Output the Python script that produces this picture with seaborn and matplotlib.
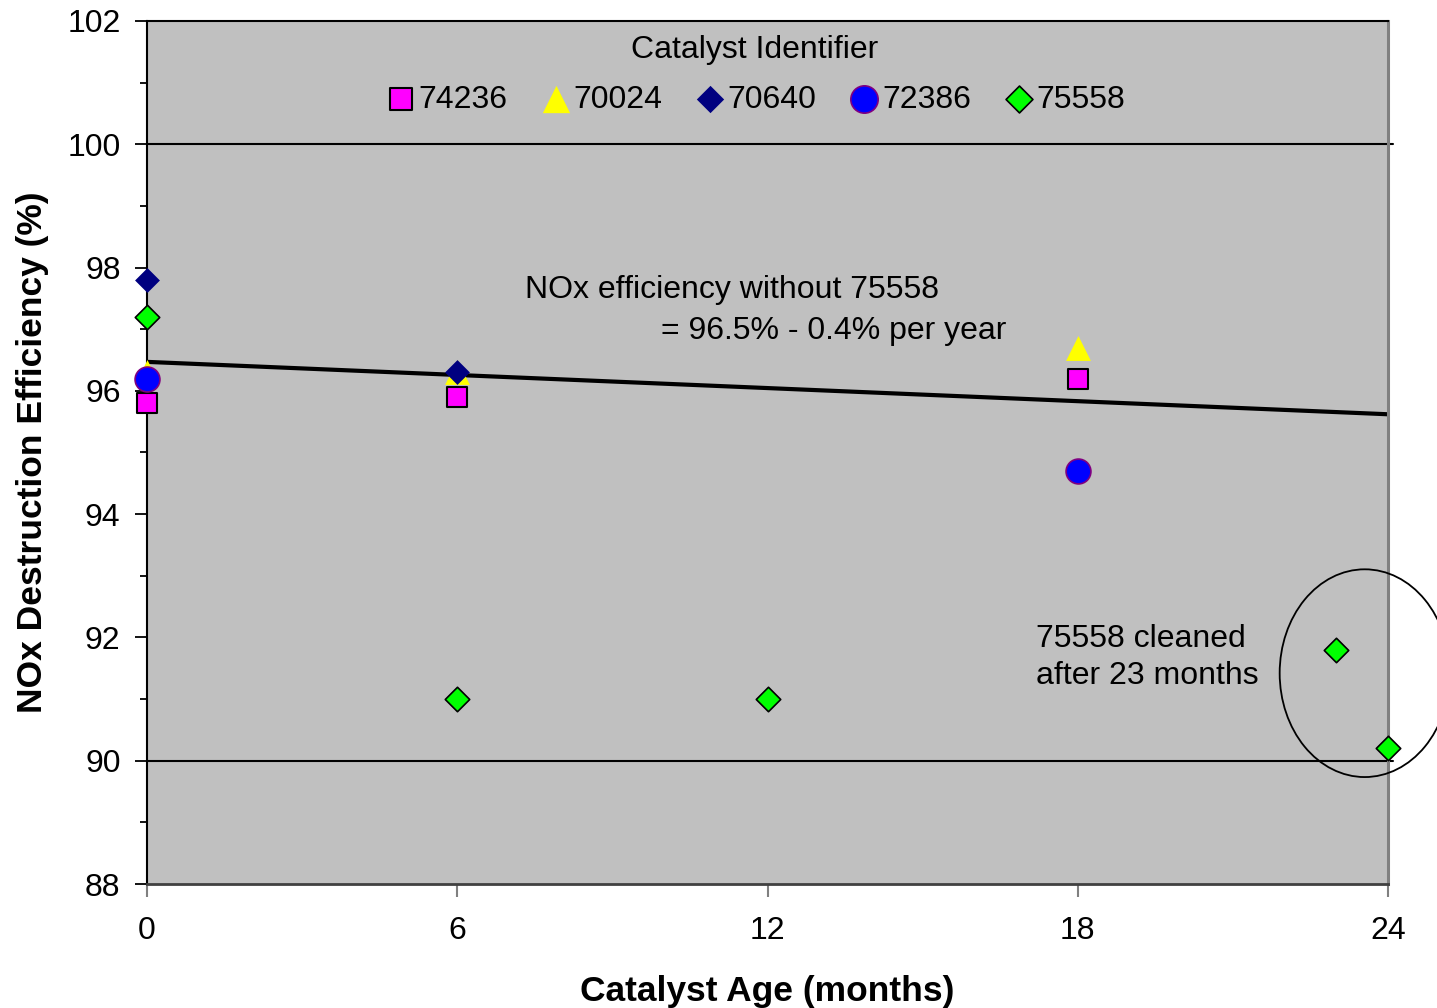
import numpy as np
import pandas as pd
import matplotlib
matplotlib.use("Agg")
import matplotlib.pyplot as plt
from matplotlib.patches import Ellipse
from matplotlib.ticker import MultipleLocator
import seaborn as sns

# ---- data ----
catalysts = ["74236", "70024", "70640", "72386", "75558"]
age_74236 = [0, 6, 18]
eff_74236 = [95.8, 95.9, 96.2]
age_70024 = [0, 6, 18]
eff_70024 = [96.3, 96.3, 96.7]
age_70640 = [0, 6]
eff_70640 = [97.8, 96.3]
age_72386 = [0, 18]
eff_72386 = [96.2, 94.7]
age_75558 = [0, 6, 12, 23, 24]
eff_75558 = [97.2, 91.0, 91.0, 91.8, 90.2]

trend_age = [0, 24]
trend_eff = [96.47, 95.62]

grid_levels = [90, 100]
x_ticks = [0, 6, 12, 18, 24]

sns.set_style("white")
plt.rcParams['font.family'] = ['Liberation Sans', 'DejaVu Sans']
plt.rcParams.update({'text.color': 'black', 'axes.labelcolor': 'black',
                     'xtick.color': 'black', 'ytick.color': 'black'})

frames = []
for name, a, e in [("74236", age_74236, eff_74236), ("70024", age_70024, eff_70024),
                   ("70640", age_70640, eff_70640), ("72386", age_72386, eff_72386),
                   ("75558", age_75558, eff_75558)]:
    frames.append(pd.DataFrame({"age": a, "eff": e, "catalyst": name}))
df = pd.concat(frames, ignore_index=True)

# marker styling per series (Excel look)
styles = {
    "74236": dict(marker="s", color="#FF00FF", edgecolor="black", s=225, linewidth=1.5),
    "70024": dict(marker="^", color="#FFFF00", edgecolor="#FFFF00", s=320, linewidth=0),
    "70640": dict(marker="D", color="#000080", edgecolor="#000080", s=160, linewidth=0),
    "72386": dict(marker="o", color="#0000FF", edgecolor="#800080", s=320, linewidth=1.2),
    "75558": dict(marker="D", color="#00FF00", edgecolor="black", s=155, linewidth=1.2),
}

fig = plt.figure(figsize=(14.37, 10.08), dpi=100)
ax = fig.add_axes([0.1023, 0.123, 0.8636, 0.8562])
ax.set_facecolor("#C0C0C0")

for lvl in grid_levels:
    ax.axhline(lvl, xmin=0, xmax=1.004, color="black", linewidth=1.5, zorder=1, clip_on=False)

sns.lineplot(x=trend_age, y=trend_eff, ax=ax, color="black", linewidth=3, zorder=2)

for name in catalysts:
    sub = df[df["catalyst"] == name]
    st = styles[name]
    sns.scatterplot(data=sub, x="age", y="eff", ax=ax, label=name,
                    marker=st["marker"], color=st["color"], edgecolor=st["edgecolor"],
                    s=st["s"], linewidth=st["linewidth"], zorder=3, clip_on=False)

ax.set_xlim(0, 24)
ax.set_ylim(88, 102)
ax.set_xticks(x_ticks)
ax.yaxis.set_major_locator(MultipleLocator(2))
ax.yaxis.set_minor_locator(MultipleLocator(1))
ax.tick_params(axis="y", which="major", direction="out", length=9, width=1.3,
               color="black", labelcolor="black", labelsize=23, pad=10, left=True)
ax.tick_params(axis="y", which="minor", direction="out", length=5, width=1.3,
               color="black", left=True)
ax.tick_params(axis="x", which="major", direction="out", length=9, width=1.5,
               color="#808080", labelcolor="black", labelsize=23, pad=14, bottom=True)

for side in ["left", "top"]:
    ax.spines[side].set_color("black")
    ax.spines[side].set_linewidth(1.5)
ax.spines["right"].set_color("#808080")
ax.spines["right"].set_linewidth(2.2)
ax.spines["bottom"].set_color("#404040")
ax.spines["bottom"].set_linewidth(2)

ax.set_xlabel("Catalyst Age (months)", fontsize=25.5, fontweight="bold", labelpad=21,
              color="black")
ax.set_ylabel("NOx Destruction Efficiency (%)", fontsize=25.5, fontweight="bold", labelpad=13,
              color="black")

ax.text(7.31, 97.64, "NOx efficiency without 75558", fontsize=23, ha="left", va="center")
ax.text(9.94, 96.97, "= 96.5% - 0.4% per year", fontsize=23, ha="left", va="center")
ax.text(17.19, 91.68, "75558 cleaned\nafter 23 months", fontsize=23, ha="left", va="center",
        linespacing=1.3)

ax.add_patch(Ellipse((23.55, 91.42), 3.29, 3.37, fill=False, edgecolor="black",
                     linewidth=1.3, clip_on=False, zorder=4))

leg = ax.legend(loc="upper center", bbox_to_anchor=(0.49, 1.013), ncol=5,
                title="Catalyst Identifier", title_fontsize=23, fontsize=23,
                frameon=False, handletextpad=0.05, columnspacing=1.0,
                handlelength=1.0, borderpad=0.3, labelspacing=0.3, markerscale=1.1)
leg._legend_box.sep = 14
for t in leg.get_texts():
    t.set_color("black")
leg.get_title().set_color("black")

fig.savefig("out.png", dpi=100)
